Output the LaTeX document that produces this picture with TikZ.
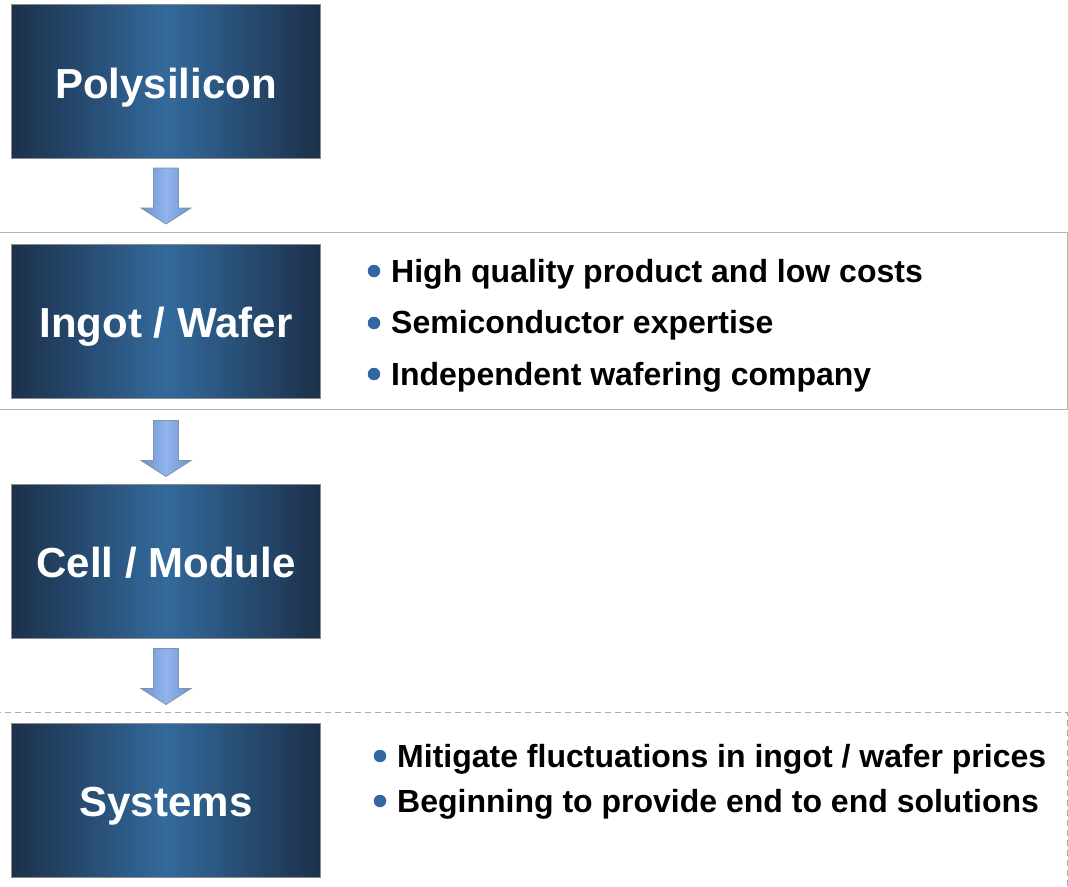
\documentclass[tikz,border=0pt]{standalone}
\usepackage{fontspec}
\setmainfont{Liberation Sans}
\usetikzlibrary{calc}
\definecolor{boxedge}{RGB}{28,48,74}
\definecolor{boxmid}{RGB}{51,106,156}
\definecolor{boxline}{RGB}{140,140,140}
\definecolor{arredge}{RGB}{108,148,208}
\definecolor{arrmid}{RGB}{145,180,236}
\definecolor{arrline}{RGB}{130,145,170}
\definecolor{frameline}{RGB}{180,180,180}
\definecolor{dashline}{RGB}{170,170,170}
\definecolor{bulletc}{RGB}{52,101,164}
\tikzset{
  stagebox/.style={draw=boxline, line width=1pt, left color=boxedge, right color=boxedge, middle color=boxmid,
    minimum width=309pt, minimum height=154pt, inner sep=0pt, text=white,
    text height=33pt, text depth=0pt,
    font=\fontsize{42}{48}\selectfont\bfseries},
  blockarrow/.style={draw=arrline, line width=0.8pt, left color=arredge, right color=arredge, middle color=arrmid},
  bullettext/.style={anchor=base west, inner sep=0pt, font=\fontsize{32}{38}\selectfont\bfseries},
  bulletdot/.style={circle, fill=bulletc, minimum size=12.5pt, inner sep=0pt},
}
\begin{document}
\begin{tikzpicture}[x=1pt,y=-1pt]
\useasboundingbox (0,0) rectangle (1068,886);
% frames
\draw[frameline, line width=1pt] (-5,232.5) rectangle (1067,409);
\draw[dashline, line width=1pt, dash pattern=on 6pt off 4pt] (-5,712) -- (1067,712) -- (1067,900);
% stage boxes
\node[stagebox] (poly) at (166,81.5) {Polysilicon};
\node[stagebox] (ingot) at (166,321) {Ingot / Wafer};
\node[stagebox] (cell) at (166,561) {Cell / Module};
\node[stagebox] (sys) at (166,800) {Systems};
% block arrows
\foreach \a/\d in {poly/9, ingot/22, cell/10}{
  \draw[blockarrow] ($(\a.south)+(-12.5,\d)$) -- ++(25,0) -- ++(0,40) -- ++(12.5,0)
     -- ++(-25,16) -- ++(-25,-16) -- ++(12.5,0) -- cycle;
}
% Ingot / Wafer bullets
\node[bulletdot] (b1) at (374,271) {};
\node[bullettext] (t1) at (391,282) {High quality product and low costs};
\node[bulletdot] (b2) at (374,323) {};
\node[bullettext] (t2) at (391,333.5) {Semiconductor expertise};
\node[bulletdot] (b3) at (374,374) {};
\node[bullettext] (t3) at (391,385) {Independent wafering company};
% Systems bullets
\node[bulletdot] (b4) at (380,756) {};
\node[bullettext] (t4) at (397,767) {Mitigate fluctuations in ingot / wafer prices};
\node[bulletdot] (b5) at (380,801) {};
\node[bullettext] (t5) at (397,812.5) {Beginning to provide end to end solutions};
\end{tikzpicture}
\end{document}
